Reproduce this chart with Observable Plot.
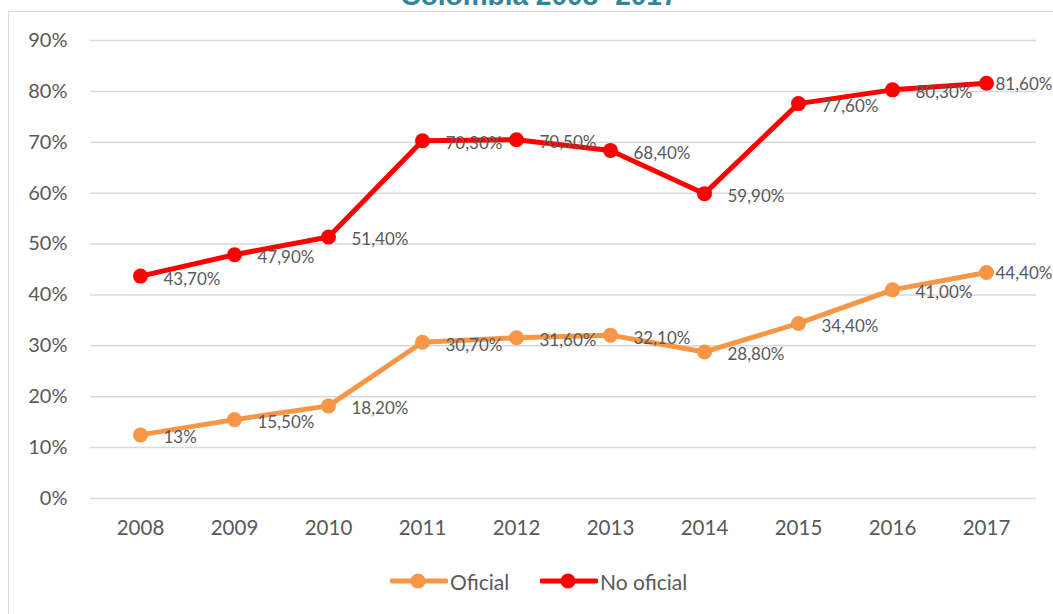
<!DOCTYPE html>
<html>
<head>
<meta charset="utf-8">
<script src="https://cdn.jsdelivr.net/npm/d3@7"></script>
<script src="https://cdn.jsdelivr.net/npm/@observablehq/plot@0.6"></script>
<style>
  html, body { margin: 0; padding: 0; background: #fff; }
  #wrap { position: relative; width: 1053px; height: 614px; overflow: hidden; background: #fff; font-family: Lato, "Open Sans", sans-serif; }
  #frame { position: absolute; left: 8px; top: 11px; width: 1200px; height: 800px; border-left: 1.5px solid #d9d9d9; border-top: 1.5px solid #d9d9d9; }
  #title { position: absolute; left: 0; width: 1078px; top: -18px; text-align: center; font: bold 28px/28px "Liberation Sans", Arial, sans-serif; color: #31859C; white-space: nowrap; }
  #chart { position: absolute; left: 0; top: 0; }
  #legend { position: absolute; top: 568px; left: 0; width: 1053px; height: 26px; }
  .lg { position: absolute; top: 0; display: flex; align-items: center; height: 26px; font-size: 21px; color: #595959; }
</style>
</head>
<body>
<div id="wrap">
  <div id="frame"></div>
  <div id="title">Colombia 2008 -2017</div>
  <div id="chart"></div>
  <div id="legend"></div>
</div>
<script>
const years = ["2008","2009","2010","2011","2012","2013","2014","2015","2016","2017"];
const oficial = [12.5, 15.5, 18.2, 30.7, 31.6, 32.1, 28.8, 34.4, 41.0, 44.4];
const oficialLabels = ["13%","15,50%","18,20%","30,70%","31,60%","32,10%","28,80%","34,40%","41,00%","44,40%"];
const noOficial = [43.7, 47.9, 51.4, 70.3, 70.5, 68.4, 59.9, 77.6, 80.3, 81.6];
const noOficialLabels = ["43,70%","47,90%","51,40%","70,30%","70,50%","68,40%","59,90%","77,60%","80,30%","81,60%"];
const yTicks = [0, 10, 20, 30, 40, 50, 60, 70, 80, 90];
const seriesNames = ["Oficial", "No oficial"];
const seriesColors = ["#F79646", "#FF0000"];

const rows = [];
years.forEach((yr, i) => {
  rows.push({year: yr, value: oficial[i], label: oficialLabels[i], series: seriesNames[0]});
});
years.forEach((yr, i) => {
  rows.push({year: yr, value: noOficial[i], label: noOficialLabels[i], series: seriesNames[1]});
});
const lastYear = years[years.length - 1];

const chart = Plot.plot({
  width: 1053,
  height: 550,
  marginLeft: 90,
  marginRight: 17,
  marginTop: 40,
  marginBottom: 52,
  style: { fontFamily: "Lato, 'Open Sans', sans-serif", background: "transparent", overflow: "visible" },
  x: { type: "point", domain: years, padding: 0.5 },
  y: { domain: [0, 90] },
  color: { domain: seriesNames, range: seriesColors },
  marks: [
    Plot.gridY(yTicks, { stroke: "#d9d9d9", strokeOpacity: 1, strokeWidth: 1.5 }),
    Plot.axisY(yTicks, { tickSize: 0, tickPadding: 23, tickFormat: d => d + "%", fontSize: 20, fill: "#595959", label: null }),
    Plot.axisX({ tickSize: 0, tickPadding: 22, fontSize: 20.5, fill: "#595959", label: null }),
    Plot.line(rows, { x: "year", y: "value", z: "series", stroke: "series", strokeWidth: 5, strokeLinejoin: "round" }),
    Plot.dot(rows, { x: "year", y: "value", fill: "series", r: 7.5, stroke: "none" }),
    Plot.text(rows.filter(d => d.year !== lastYear), { x: "year", y: "value", text: "label", textAnchor: "start", dx: 23, dy: 3, fontSize: 17, fill: "#595959" }),
    Plot.text(rows.filter(d => d.year === lastYear), { x: "year", y: "value", text: "label", textAnchor: "start", dx: 9, dy: 1, fontSize: 17, fill: "#595959" })
  ]
});
document.getElementById("chart").appendChild(chart);

const legend = document.getElementById("legend");
const legendPos = [390, 540];
seriesNames.forEach((name, i) => {
  const item = document.createElement("div");
  item.className = "lg";
  item.style.left = legendPos[i] + "px";
  item.innerHTML = `<svg width="58" height="26"><line x1="2" y1="13" x2="56" y2="13" stroke="${seriesColors[i]}" stroke-width="5" stroke-linecap="round"/><circle cx="28" cy="13" r="7.5" fill="${seriesColors[i]}"/></svg><span style="margin-left:2px">${name}</span>`;
  legend.appendChild(item);
});
</script>
</body>
</html>
